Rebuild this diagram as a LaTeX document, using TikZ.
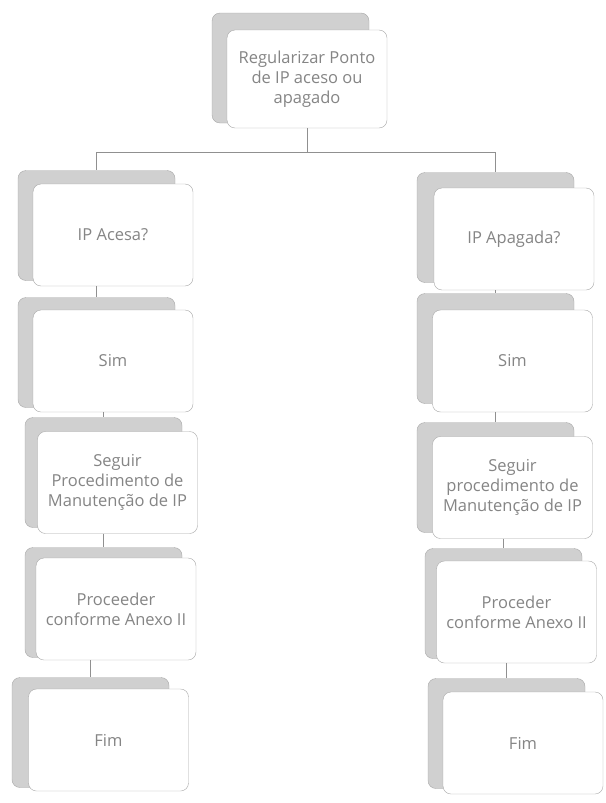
\documentclass[tikz,border=0pt]{standalone}
\usepackage{fontspec}
\setmainfont{Open Sans}
\usepackage{tikz}
\usetikzlibrary{positioning}
\usepackage{xcolor}
\definecolor{inkgray}{HTML}{858585}
\definecolor{edgegray}{HTML}{A8A8A8}
\definecolor{backgray}{HTML}{D0D0D0}
\definecolor{linegray}{HTML}{909090}

\begin{document}
\begin{tikzpicture}[
  x=1pt,y=-1pt,
  backbox/.style={draw=edgegray,rounded corners=8pt,fill=backgray,minimum width=157pt,minimum height=110pt,inner sep=0pt},
  frontbox/.style={draw=edgegray,rounded corners=8pt,fill=white,align=center,minimum width=160pt,minimum height=102pt,inner sep=0pt,text=inkgray,font=\fontsize{16.5}{20}\selectfont},
  conn/.style={draw=linegray,line width=1pt}
]
\useasboundingbox (0,0) rectangle (605,803);

% top item
\node[backbox] (btop) at (290.5,68) {};
\node[frontbox,minimum height=98pt] (ftop) at (307,79) {Regularizar Ponto\\de IP aceso ou\\apagado};

% left column
\node[backbox] (bL1) at (96.5,225.5) {};
\node[frontbox] (fL1) at (113,235) {IP Acesa?};
\node[backbox] (bL2) at (96.5,352.5) {};
\node[frontbox] (fL2) at (113,361) {Sim};
\node[backbox] (bL3) at (103.5,472.5) {};
\node[frontbox] (fL3) at (117.5,482.5) {Seguir\\Procedimento de\\Manutenção de IP};
\node[backbox] (bL4) at (103.5,602.5) {};
\node[frontbox] (fL4) at (116,609) {Proceeder\\conforme Anexo II};
\node[backbox] (bL5) at (90.5,732.5) {};
\node[frontbox] (fL5) at (108.5,740) {Fim};

% right column
\node[backbox] (bR1) at (495.5,227.5) {};
\node[frontbox] (fR1) at (514,239) {IP Apagada?};
\node[backbox] (bR2) at (495.5,348.5) {};
\node[frontbox] (fR2) at (512.5,361) {Sim};
\node[backbox] (bR3) at (495.5,477.5) {};
\node[frontbox] (fR3) at (512.5,487.5) {Seguir\\procedimento de\\Manutenção de IP};
\node[backbox] (bR4) at (503.5,603.5) {};
\node[frontbox] (fR4) at (516.5,612) {Proceder\\conforme Anexo II};
\node[backbox] (bR5) at (506.5,733.5) {};
\node[frontbox] (fR5) at (523,743) {Fim};

% connectors
\draw[conn] (ftop.south) -- ++(0,24) coordinate (hub);
\draw[conn] (hub) -| (bL1.north);
\draw[conn] (hub) -| (bR1.north);
\draw[conn] (fL1.south -| bL2.north) -- (bL2.north);
\draw[conn] (fL2.south -| bL3.north) -- (bL3.north);
\draw[conn] (fL3.south -| bL4.north) -- (bL4.north);
\draw[conn] (fL4.south -| bL5.north) -- (bL5.north);
\draw[conn] (fR1.south -| bR2.north) -- (bR2.north);
\draw[conn] (fR2.south -| bR3.north) -- (bR3.north);
\draw[conn] (fR3.south -| bR4.north) -- (bR4.north);
\draw[conn] (fR4.south -| bR5.north) -- (bR5.north);
\end{tikzpicture}
\end{document}
